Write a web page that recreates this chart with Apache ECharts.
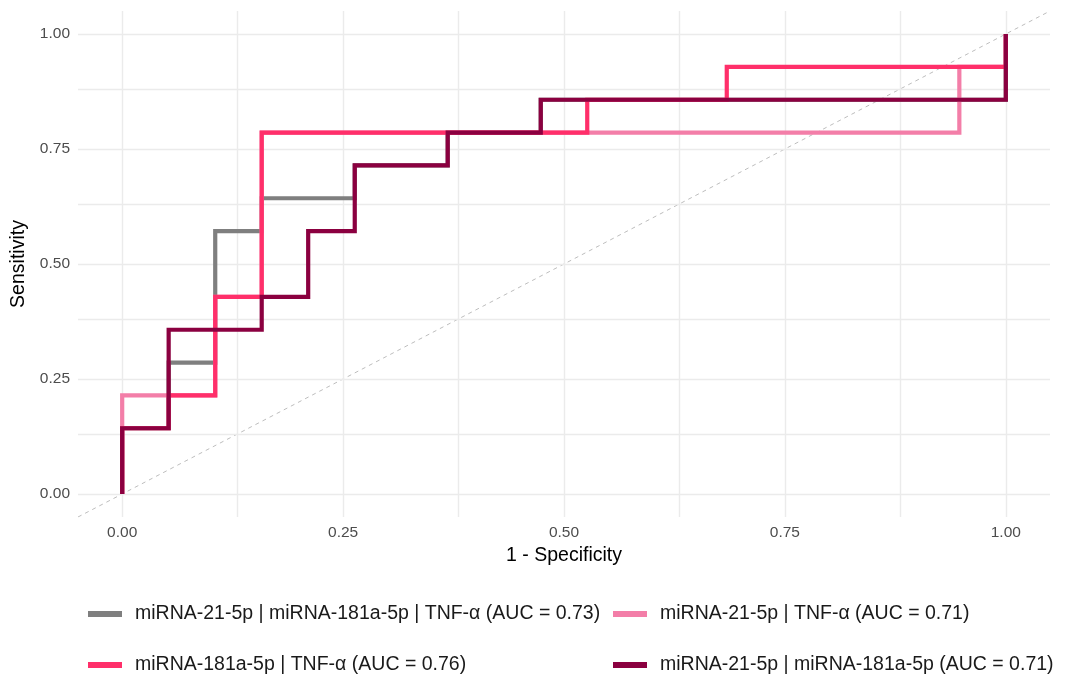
<!DOCTYPE html>
<html>
<head>
<meta charset="utf-8">
<script src="https://cdn.jsdelivr.net/npm/echarts@6/dist/echarts.min.js"></script>
<style>
html,body{margin:0;padding:0;background:#fff;}
#chart{width:1070px;height:677px;}
</style>
</head>
<body>
<div id="chart"></div>
<script>
// ---- data ----
const seriesNames = [
  'miRNA-21-5p | miRNA-181a-5p | TNF-α (AUC = 0.73)',
  'miRNA-21-5p | TNF-α (AUC = 0.71)',
  'miRNA-181a-5p | TNF-α (AUC = 0.76)',
  'miRNA-21-5p | miRNA-181a-5p (AUC = 0.71)'
];
// 1 - specificity (x) and sensitivity (y) of each ROC curve
const grayX = [0, 0, 0.0526, 0.0526, 0.1053, 0.1053, 0.1579, 0.1579, 0.2632, 0.2632, 0.3684, 0.3684, 0.4737, 0.4737, 1, 1];
const grayY = [0, 0.1429, 0.1429, 0.2857, 0.2857, 0.5714, 0.5714, 0.6429, 0.6429, 0.7143, 0.7143, 0.7857, 0.7857, 0.8571, 0.8571, 1];
const pinkX = [0, 0, 0.1053, 0.1053, 0.1579, 0.1579, 0.9474, 0.9474, 1, 1];
const pinkY = [0, 0.2143, 0.2143, 0.4286, 0.4286, 0.7857, 0.7857, 0.9286, 0.9286, 1];
const redX = [0, 0, 0.0526, 0.0526, 0.1053, 0.1053, 0.1579, 0.1579, 0.5263, 0.5263, 0.6842, 0.6842, 1, 1];
const redY = [0, 0.1429, 0.1429, 0.2143, 0.2143, 0.4286, 0.4286, 0.7857, 0.7857, 0.8571, 0.8571, 0.9286, 0.9286, 1];
const darkX = [0, 0, 0.0526, 0.0526, 0.1579, 0.1579, 0.2105, 0.2105, 0.2632, 0.2632, 0.3684, 0.3684, 0.4737, 0.4737, 1, 1];
const darkY = [0, 0.1429, 0.1429, 0.3571, 0.3571, 0.4286, 0.4286, 0.5714, 0.5714, 0.7143, 0.7143, 0.7857, 0.7857, 0.8571, 0.8571, 1];
const diagX = [-0.05, 1.05];
const diagY = [-0.05, 1.05];
const tickValues = [0, 0.25, 0.5, 0.75, 1];
const gridValues = [0, 0.125, 0.25, 0.375, 0.5, 0.625, 0.75, 0.875, 1];
const colors = ['#7F7F7F', '#F37EA8', '#FF2F6A', '#8B0040'];

// ---- chart ----
const FONT = '"Liberation Sans", Arial, sans-serif';
const zip = (xs, ys) => xs.map((x, i) => [x, ys[i]]);
const curves = [zip(grayX, grayY), zip(pinkX, pinkY), zip(redX, redY), zip(darkX, darkY)];

const chart = echarts.init(document.getElementById('chart'), null, {renderer: 'canvas'});

const lineSeries = curves.map((d, i) => ({
  name: seriesNames[i],
  type: 'line',
  data: d,
  showSymbol: false,
  symbol: 'none',
  color: colors[i],
  lineStyle: {width: 4.2, color: colors[i], cap: 'butt', join: 'miter'},
  z: 5 + i,
  silent: true,
  animation: false
}));

const gridLineStyle = {color: '#EBEBEB', width: 1.4, type: 'solid'};

const legendPos = [
  {left: 88, top: 603},
  {left: 613, top: 603},
  {left: 88, top: 654},
  {left: 613, top: 654}
];
const legends = [0, 1, 2, 3].map(i => ({
  data: [seriesNames[i]],
  left: legendPos[i].left,
  top: legendPos[i].top,
  orient: 'horizontal',
  padding: 0,
  icon: 'rect',
  itemWidth: 34,
  itemHeight: 6,
  selectedMode: false,
  textStyle: {fontFamily: FONT, fontSize: 19.5, color: '#1A1A1A', lineHeight: 22, padding: [0, 0, 0, 8]}
}));

chart.setOption({
  animation: false,
  backgroundColor: '#ffffff',
  grid: {left: 78, right: 20, top: 11, bottom: 160, containLabel: false},
  legend: legends,
  xAxis: {
    type: 'value', min: -0.05, max: 1.05,
    name: '1 - Specificity', nameLocation: 'middle', nameGap: 25,
    nameTextStyle: {fontFamily: FONT, fontSize: 19.5, color: '#000'},
    axisLine: {show: false}, axisTick: {show: false}, splitLine: {show: false},
    axisLabel: {customValues: tickValues, formatter: v => v.toFixed(2), fontFamily: FONT, fontSize: 15.5, color: '#4D4D4D', margin: 8}
  },
  yAxis: {
    type: 'value', min: -0.05, max: 1.05,
    name: 'Sensitivity', nameLocation: 'middle', nameGap: 43, nameRotate: 90,
    nameTextStyle: {fontFamily: FONT, fontSize: 19.5, color: '#000'},
    axisLine: {show: false}, axisTick: {show: false}, splitLine: {show: false},
    axisLabel: {customValues: tickValues, formatter: v => v.toFixed(2), fontFamily: FONT, fontSize: 15.5, color: '#4D4D4D', margin: 8}
  },
  series: [
    {
      type: 'line', data: [], silent: true, z: 1,
      markLine: {
        silent: true, symbol: 'none', animation: false,
        label: {show: false},
        lineStyle: gridLineStyle,
        emphasis: {disabled: true},
        data: gridValues.map(v => ({xAxis: v})).concat(gridValues.map(v => ({yAxis: v})))
      }
    },
    {
      type: 'line', data: zip(diagX, diagY), showSymbol: false, symbol: 'none', silent: true, z: 2,
      lineStyle: {color: '#BDBDBD', width: 1, type: [4, 4]}
    }
  ].concat(lineSeries)
});
</script>
</body>
</html>
